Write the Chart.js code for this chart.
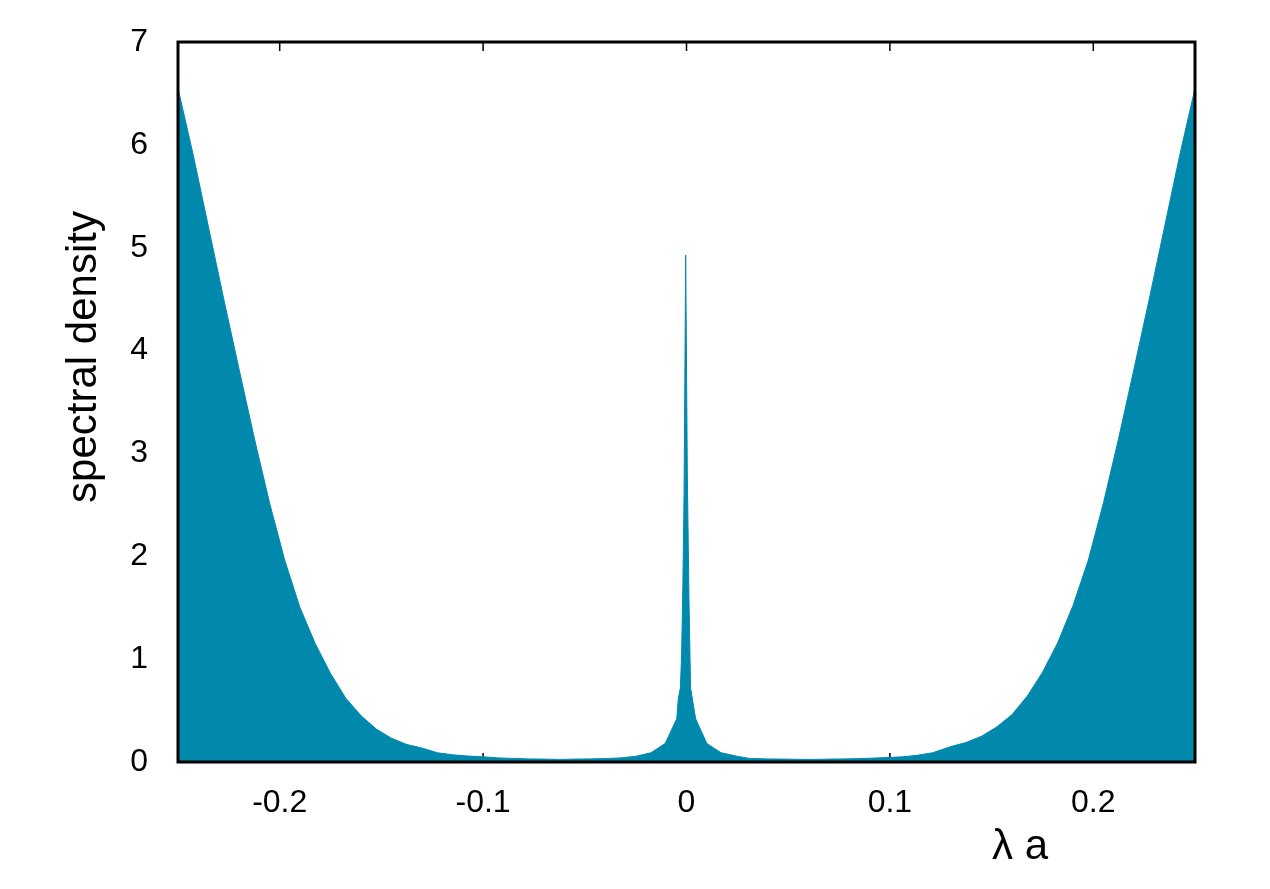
<!DOCTYPE html>
<html>
<head>
<meta charset="utf-8">
<script src="https://cdn.jsdelivr.net/npm/chart.js@4/dist/chart.umd.min.js"></script>
<style>
  html, body { margin: 0; padding: 0; background: #fff; }
  #wrap { width: 1270px; height: 889px; }
</style>
</head>
<body>
<div id="wrap"><canvas id="myChart" width="1270" height="889"></canvas></div>
<script>
const lambdaA = [
    -0.25, -0.2425, -0.235, -0.2275, -0.22, -0.2125, -0.205, -0.1975, -0.19, -0.1825,
    -0.175, -0.1675, -0.16, -0.1525, -0.145, -0.1375, -0.13, -0.1225, -0.115, -0.1075,
    -0.1, -0.0925, -0.085, -0.0775, -0.07, -0.0625, -0.055, -0.0475, -0.04, -0.0325,
    -0.025, -0.0175, -0.0105, -0.0048, -0.004, -0.003, -0.0024, -0.0018, -0.0012, -0.0004,
    0.0004, 0.0012, 0.002, 0.003, 0.0045, 0.01, 0.017, 0.025, 0.031, 0.04,
    0.0475, 0.055, 0.0625, 0.07, 0.0775, 0.085, 0.0925, 0.1, 0.106, 0.1135,
    0.121, 0.13, 0.1375, 0.145, 0.1525, 0.16, 0.1675, 0.175, 0.1825, 0.19,
    0.1975, 0.205, 0.2125, 0.22, 0.2275, 0.235, 0.2425, 0.25
];
const density = [
    6.55, 5.9, 5.2, 4.5, 3.82, 3.15, 2.52, 1.96, 1.5, 1.15,
    0.86, 0.62, 0.45, 0.32, 0.23, 0.17, 0.135, 0.09, 0.07, 0.058,
    0.05, 0.04, 0.035, 0.03, 0.028, 0.025, 0.028, 0.03, 0.033, 0.04,
    0.055, 0.09, 0.18, 0.42, 0.62, 0.72, 1.05, 1.7, 2.6, 4.93,
    2.8, 1.6, 0.72, 0.6, 0.42, 0.18, 0.09, 0.055, 0.035, 0.03,
    0.028, 0.026, 0.025, 0.028, 0.03, 0.033, 0.038, 0.045, 0.05, 0.065,
    0.09, 0.15, 0.19, 0.25, 0.34, 0.46, 0.64, 0.87, 1.16, 1.52,
    1.96, 2.52, 3.15, 3.82, 4.5, 5.2, 5.9, 6.55
];
const xTicks = [-0.2, -0.1, 0, 0.1, 0.2];
const yTicks = [0, 1, 2, 3, 4, 5, 6, 7];
const xTitle = 'λ a';
const yTitle = 'spectral density';

const fontName = '"Liberation Sans", Arial, sans-serif';

// gnuplot style: inward ticks on all four sides, frame on top of the fill
const framePlugin = {
    id: 'frame',
    beforeDatasetsDraw(chart) {
        const ctx = chart.ctx, a = chart.chartArea;
        const xs = chart.scales.x, ys = chart.scales.y;
        ctx.save();
        ctx.strokeStyle = '#000';
        ctx.lineWidth = 1.5;
        ctx.beginPath();
        xTicks.forEach(v => {
            const px = xs.getPixelForValue(v);
            ctx.moveTo(px, a.bottom); ctx.lineTo(px, a.bottom - 9);
            ctx.moveTo(px, a.top); ctx.lineTo(px, a.top + 9);
        });
        yTicks.forEach(v => {
            const py = ys.getPixelForValue(v);
            ctx.moveTo(a.left, py); ctx.lineTo(a.left + 9, py);
            ctx.moveTo(a.right, py); ctx.lineTo(a.right - 9, py);
        });
        ctx.stroke();
        ctx.restore();
    },
    afterDraw(chart) {
        const ctx = chart.ctx, a = chart.chartArea;
        ctx.save();
        ctx.strokeStyle = '#000';
        ctx.lineWidth = 3;
        ctx.strokeRect(a.left, a.top, a.right - a.left, a.bottom - a.top);
        ctx.fillStyle = '#000';
        ctx.font = '42px ' + fontName;
        ctx.textAlign = 'center';
        ctx.textBaseline = 'alphabetic';
        ctx.fillText(xTitle, 1020, 859);
        ctx.translate(84, 357);
        ctx.rotate(-Math.PI / 2);
        ctx.textBaseline = 'middle';
        ctx.fillText(yTitle, 0, 0);
        ctx.restore();
    }
};

const data = {
    datasets: [{
        label: 'spectral density',
        data: lambdaA.map((x, i) => ({ x: x, y: density[i] })),
        backgroundColor: '#0189ad',
        borderColor: '#0189ad',
        borderWidth: 1,
        pointRadius: 0,
        tension: 0,
        fill: 'origin'
    }]
};

const config = {
    type: 'line',
    data: data,
    options: {
        responsive: false,
        animation: false,
        layout: { padding: { left: 78, right: 75, top: 42, bottom: 57 } },
        plugins: {
            legend: { display: false },
            tooltip: { enabled: false }
        },
        scales: {
            x: {
                type: 'linear',
                min: -0.25,
                max: 0.25,
                afterFit: s => { s.height = 70; },
                afterBuildTicks: s => { s.ticks = xTicks.map(v => ({ value: v })); },
                grid: { display: false },
                border: { display: false },
                ticks: {
                    color: '#000',
                    padding: 14,
                    maxRotation: 0,
                    font: { family: fontName, size: 32 },
                    callback: v => String(Math.round(v * 10) / 10)
                }
            },
            y: {
                min: 0,
                max: 7,
                afterFit: s => { s.width = 100; },
                afterBuildTicks: s => { s.ticks = yTicks.map(v => ({ value: v })); },
                grid: { display: false },
                border: { display: false },
                ticks: {
                    color: '#000',
                    padding: 22,
                    font: { family: fontName, size: 32 }
                }
            }
        }
    },
    plugins: [framePlugin]
};

var myChart = new Chart(
    document.getElementById('myChart'),
    config
);
</script>
</body>
</html>
